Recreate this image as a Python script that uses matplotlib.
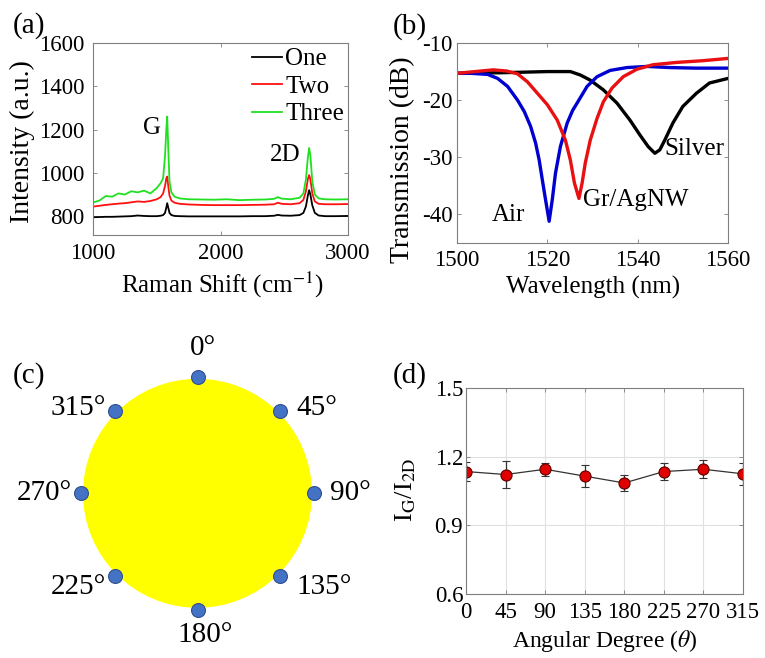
import numpy as np
import matplotlib
matplotlib.use("Agg")
import matplotlib.pyplot as plt
from matplotlib.patches import Circle

plt.rcParams["font.family"] = ["Liberation Serif", "DejaVu Serif"]
plt.rcParams["mathtext.fontset"] = "stix"
plt.rcParams["axes.unicode_minus"] = False

# ---------------- (a) Raman spectra ----------------
raman_shift = [1000, 1050, 1100, 1150, 1200, 1250, 1300, 1350, 1400, 1450,
               1500, 1530, 1550, 1565, 1575, 1582, 1590, 1600, 1615, 1640,
               1680, 1750, 1850, 1950, 2050, 2150, 2250, 2350, 2420, 2450,
               2480, 2550, 2620, 2650, 2670, 2685, 2695, 2705, 2720, 2740,
               2770, 2820, 2900, 3000]
one = [795, 796, 797, 797, 798, 799, 800, 803, 801, 800,
       800, 802, 805, 815, 840, 860, 840, 815, 805, 801,
       800, 799, 799, 799, 799, 799, 800, 800, 802, 806,
       803, 802, 805, 815, 845, 895, 920, 900, 850, 815,
       803, 800, 800, 801]
two = [844, 848, 852, 855, 858, 860, 864, 868, 866, 870,
       878, 888, 905, 940, 975, 983, 940, 895, 872, 862,
       857, 854, 852, 851, 851, 851, 852, 853, 855, 862,
       857, 855, 860, 875, 915, 970, 990, 970, 905, 868,
       857, 855, 855, 856]
three = [863, 872, 893, 890, 905, 900, 915, 910, 918, 905,
         930, 952, 975, 1080, 1200, 1260, 1120, 960, 910, 890,
         882, 878, 877, 876, 878, 874, 876, 877, 880, 888,
         881, 878, 885, 905, 970, 1070, 1115, 1080, 960, 900,
         882, 878, 877, 878]
raman_ticks_x = [1000, 2000, 3000]
raman_ticks_y = [800, 1000, 1200, 1400, 1600]

# ---------------- (b) transmission spectra ----------------
wl_air = [1500, 1503, 1506.8, 1509.0, 1511.2, 1513.4, 1514.9, 1516.3, 1517.4,
          1518.2, 1518.9, 1519.6, 1520.4, 1521.1, 1521.8, 1522.9, 1524.4,
          1525.6, 1526.6, 1528.8, 1531.0, 1533.9, 1537.6, 1542.0, 1547.1,
          1553, 1560]
air = [-15.3, -15.3, -15.5, -16.2, -17.6, -20.0, -22.0, -24.6, -27.5,
       -30.5, -34.0, -37.4, -41.2, -37.4, -32.8, -28.1, -24.0,
       -21.8, -20.5, -17.6, -15.9, -14.8, -14.3, -14.1, -14.3,
       -14.4, -14.4]
wl_agnw = [1500, 1504, 1508.0, 1511, 1513.4, 1515.6, 1517.8, 1520.0, 1522.2,
           1524.0, 1525.1, 1526.0, 1527.0, 1527.7, 1528.4, 1529.5, 1531.0,
           1532.4, 1534.3, 1536.8, 1539.8, 1543.4, 1548.6, 1554.4, 1560]
agnw = [-15.3, -15.0, -14.7, -14.9, -15.4, -16.8, -18.8, -20.8, -23.5,
        -27.0, -30.5, -34.5, -37.2, -34.5, -31.0, -27.0, -23.2,
        -20.3, -17.9, -15.9, -14.6, -13.8, -13.4, -13.1, -12.7]
wl_silver = [1500, 1510, 1520, 1525.1, 1527.3, 1529.5, 1532.4, 1535.4, 1538.3,
             1540.5, 1542.3, 1543.8, 1544.9, 1546.0, 1547.8, 1550.0, 1553.0,
             1555.9, 1560]
silver = [-15.3, -15.2, -15.0, -15.0, -15.6, -16.5, -18.2, -20.5, -23.5,
          -26.1, -28.1, -29.3, -28.7, -27.0, -24.0, -21.1, -18.8,
          -17.0, -16.2]
wl_ticks = [1500, 1520, 1540, 1560]
db_ticks = [-40, -30, -20, -10]

# ---------------- (c) measurement positions ----------------
positions_deg = [0, 45, 90, 135, 180, 225, 270, 315]

# ---------------- (d) intensity ratio ----------------
angle_deg = [0, 45, 90, 135, 180, 225, 270, 315]
ratio = [1.135, 1.122, 1.145, 1.115, 1.085, 1.135, 1.145, 1.125]
ratio_err = [0.040, 0.060, 0.028, 0.047, 0.033, 0.038, 0.040, 0.048]
ratio_ticks = [0.6, 0.9, 1.2, 1.5]

W, H = 765, 658
fig = plt.figure(figsize=(W / 100, H / 100), dpi=100)

def box(l, t, r, b):
    return [l / W, 1 - b / H, (r - l) / W, (b - t) / H]

def fpos(x, y):
    return (x / W, 1 - y / H)

SPINE = "#7f7f7f"
TICK_FS = 16.5
XLAB_FS = 18
YLAB_FS = 20
ANN_FS = 18
PANEL_FS = 21

def style(ax, xpad, ypad):
    for s in ax.spines.values():
        s.set_color(SPINE)
        s.set_linewidth(0.8)
    ax.tick_params(direction="in", length=3, width=0.6, color=SPINE,
                   top=True, right=True, labelsize=TICK_FS)
    ax.tick_params(axis="x", pad=xpad)
    ax.tick_params(axis="y", pad=ypad)

def labels(ax, xtext, xc, ytext, yc, yfs=YLAB_FS, xfs=XLAB_FS):
    ax.set_xlabel(xtext, fontsize=xfs)
    ax.set_ylabel(ytext, fontsize=yfs)
    ax.xaxis.set_label_coords(*fpos(*xc), transform=fig.transFigure)
    ax.yaxis.set_label_coords(*fpos(*yc), transform=fig.transFigure)
    ax.xaxis.label.set_va("center")
    ax.yaxis.label.set_va("center")

# (a)
axa = fig.add_axes(box(93, 43, 348, 235))
axa.plot(raman_shift, one, color="black", lw=1.3, label="One")
axa.plot(raman_shift, two, color="#ff1010", lw=1.3, label="Two")
axa.plot(raman_shift, three, color="#20e020", lw=1.3, label="Three")
axa.set_xlim(1000, 3000)
axa.set_ylim(713, 1600)
axa.set_xticks(raman_ticks_x)
axa.set_yticks(raman_ticks_y)
style(axa, 6, 6)
labels(axa, "Raman Shift (cm$^{-1}$)", (221.7, 285), "Intensity (a.u.)", (22, 142))
axa.legend(loc="upper right", bbox_to_anchor=(0.985, 0.975), frameon=False,
           fontsize=ANN_FS, handlelength=1.2, handletextpad=0.15,
           labelspacing=0.2, borderaxespad=0, borderpad=0)
axa.text(1463, 1208, "G", fontsize=ANN_FS, ha="center", va="center")
axa.text(2506, 1083, "2D", fontsize=ANN_FS, ha="center", va="center")
fig.text(*fpos(13, 26), "(a)", fontsize=PANEL_FS, va="center", ha="left")

# (b)
axb = fig.add_axes(box(457, 43, 728, 243))
axb.plot(wl_silver, silver, color="black", lw=2.4)
axb.plot(wl_air, air, color="#0000d0", lw=2.4)
axb.plot(wl_agnw, agnw, color="#e81010", lw=2.4)
axb.set_xlim(1500, 1560)
axb.set_ylim(-45, -10)
axb.set_xticks(wl_ticks)
axb.set_yticks(db_ticks)
style(axb, 5, 3)
labels(axb, "Wavelength (nm)", (593, 287), "Transmission (dB)", (403, 160))
axb.text(1546.0, -28.5, "Silver", fontsize=ANN_FS, ha="left", va="center")
axb.text(1528.0, -37.4, "Gr/AgNW", fontsize=ANN_FS, ha="left", va="center")
axb.text(1511.3, -40.1, "Air", fontsize=ANN_FS, ha="center", va="center")
fig.text(*fpos(393, 27), "(b)", fontsize=PANEL_FS, va="center", ha="left")

# (c)
axc = fig.add_axes([0, 0, 380 / W, 338 / H])
cx, cy, rpx = 197.5, 493.3, 114.5
axc.set_xlim(-cx / rpx, (380 - cx) / rpx)
axc.set_ylim((cy - 658) / rpx, (cy - 320) / rpx)
axc.set_aspect("equal")
axc.axis("off")
axc.add_patch(Circle((0, 0), 1.0, facecolor="#ffff00", edgecolor="none"))
for a in positions_deg:
    t = np.deg2rad(a)
    px, py = 1.02 * np.sin(t), 1.02 * np.cos(t)
    axc.plot(px, py, "o", ms=10, mfc="#4472c4", mec="#2f4f8f", mew=0.8)
    lab = f"{a}\u00b0"
    if a == 0:
        axc.text(px + 0.05, py + 0.25, lab, fontsize=PANEL_FS, ha="center", va="center")
    elif a == 180:
        axc.text(px + 0.07, py - 0.22, lab, fontsize=PANEL_FS, ha="center", va="center")
    else:
        dy = 0.02 if py > 0.1 else (-0.1 if py < -0.1 else 0.0)
        if px > 0:
            axc.text(px + 0.14, py + dy, lab, fontsize=PANEL_FS, ha="left", va="center")
        else:
            axc.text(px - 0.08, py + dy, lab, fontsize=PANEL_FS, ha="right", va="center")
fig.text(*fpos(13, 376), "(c)", fontsize=PANEL_FS, va="center", ha="left")

# (d)
axd = fig.add_axes(box(466, 388, 743, 594))
axd.errorbar(angle_deg, ratio, yerr=ratio_err, fmt="-o", color="#333333",
             lw=0.9, ms=8, mfc="#e00000", mec="#5a0000", mew=0.8,
             ecolor="#333333", elinewidth=0.9, capsize=3)
axd.set_xlim(0, 315)
axd.set_ylim(0.6, 1.5)
axd.set_xticks(angle_deg)
axd.set_yticks(ratio_ticks)
axd.set_yticklabels([f"{v:.1f}" for v in ratio_ticks])
axd.grid(True, color="#e0e0e0", lw=0.8)
axd.set_axisbelow(True)
style(axd, 6, 2)
labels(axd, r"Angular Degree ($\theta$)", (605, 641),
       r"I$_{\mathrm{G}}$/I$_{\mathrm{2D}}$", (406, 490), yfs=19, xfs=17)
fig.text(*fpos(393, 376), "(d)", fontsize=PANEL_FS, va="center", ha="left")

fig.savefig("out.png", dpi=100)
